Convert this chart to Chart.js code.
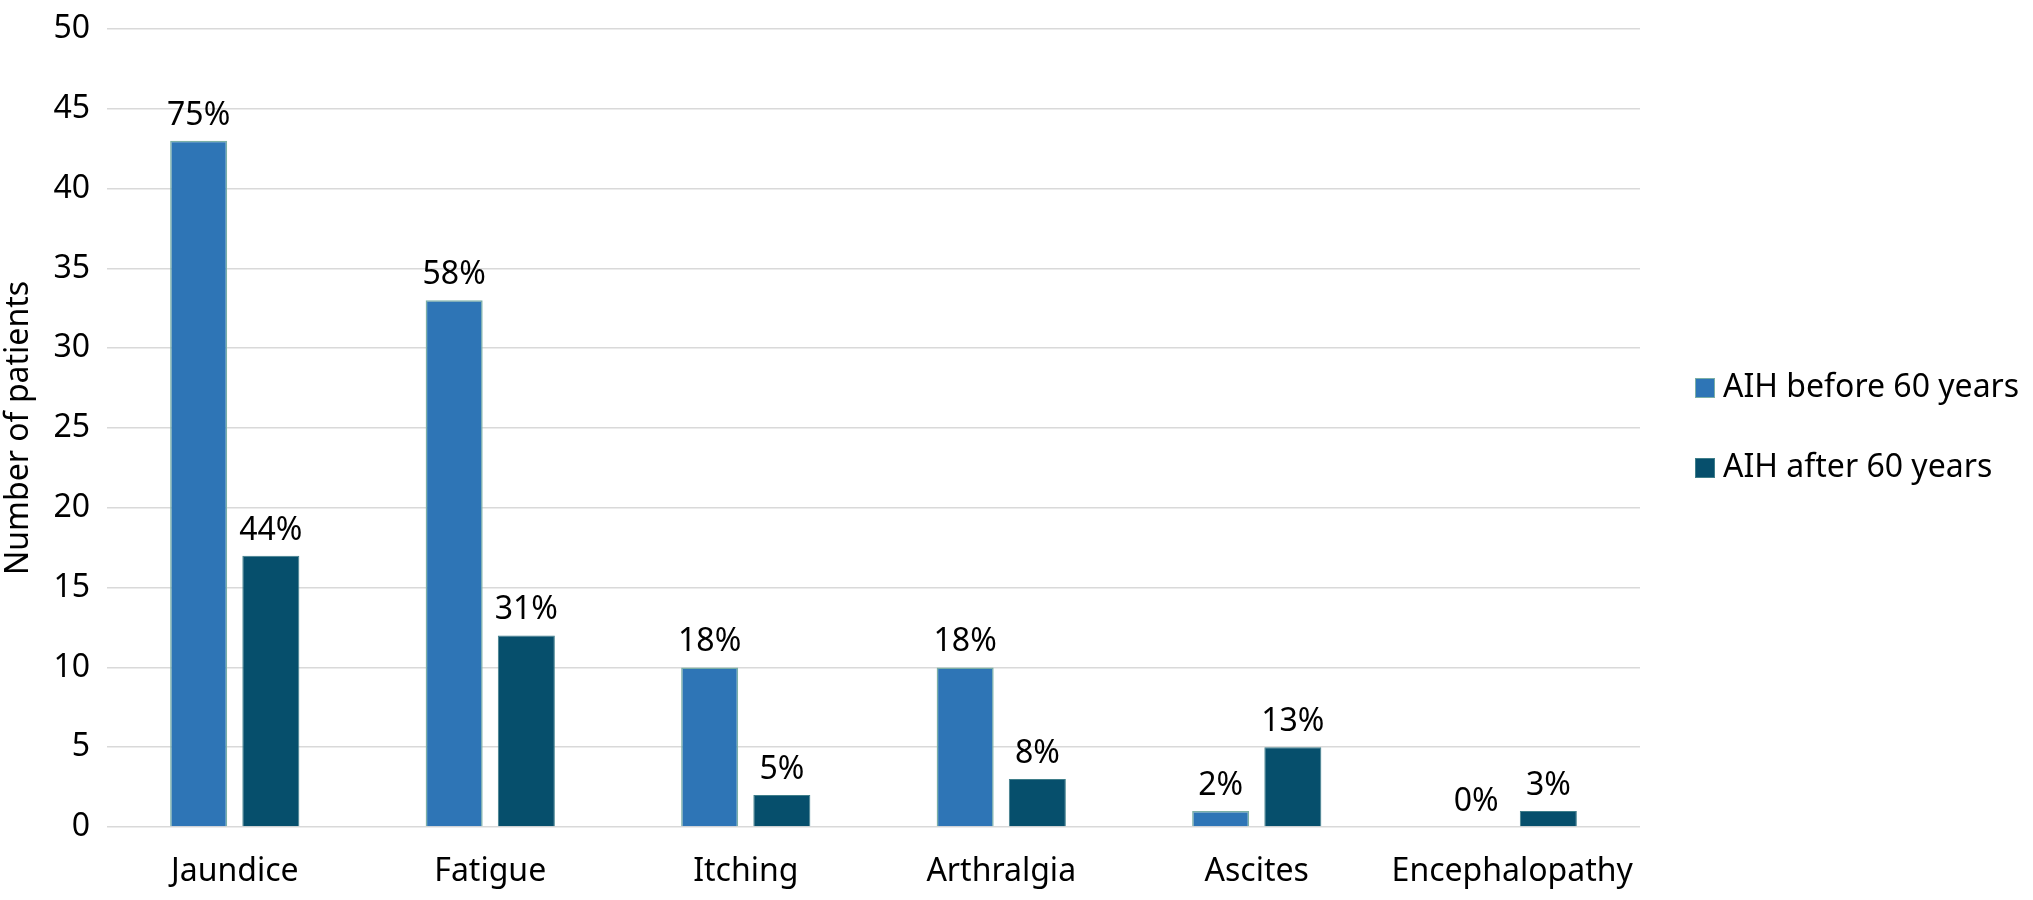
<!DOCTYPE html>
<html>
<head>
<meta charset="utf-8">
<script src="https://cdn.jsdelivr.net/npm/chart.js@4.4.1/dist/chart.umd.min.js"></script>
<style>
  html, body { margin: 0; padding: 0; background: #fff; }
  #wrap { width: 2033px; height: 900px; }
</style>
</head>
<body>
<div id="wrap"><canvas id="barChart" width="2033" height="900"></canvas></div>
<script>
// Chart data
const categories = ['Jaundice', 'Fatigue', 'Itching', 'Arthralgia', 'Ascites', 'Encephalopathy'];
const seriesNames = ['AIH before 60 years', 'AIH after 60 years'];
const beforeCounts = [43, 33, 10, 10, 1, 0];
const afterCounts = [17, 12, 2, 3, 5, 1];
const beforePercents = ['75%', '58%', '18%', '18%', '2%', '0%'];
const afterPercents = ['44%', '31%', '5%', '8%', '13%', '3%'];

const FONT = 'Noto Sans';
const SIZE = 32;

// Draws the percentage text above each bar
const barLabels = {
  id: 'barLabels',
  afterDatasetsDraw(chart) {
    const ctx = chart.ctx;
    ctx.save();
    ctx.font = SIZE + 'px "' + FONT + '"';
    ctx.fillStyle = '#000';
    ctx.textAlign = 'center';
    ctx.textBaseline = 'alphabetic';
    chart.data.datasets.forEach((ds, i) => {
      const meta = chart.getDatasetMeta(i);
      meta.data.forEach((bar, j) => {
        ctx.fillText(ds.percents[j], bar.x, bar.y - 16);
      });
    });
    ctx.restore();
  }
};

// Simple legend on the right side, vertically centered on the plot
const sideLegend = {
  id: 'sideLegend',
  afterDraw(chart) {
    const ctx = chart.ctx;
    const area = chart.chartArea;
    const x = area.right + 55;
    const midY = (area.top + area.bottom) / 2;
    ctx.save();
    ctx.font = SIZE + 'px "' + FONT + '"';
    ctx.textBaseline = 'middle';
    ctx.textAlign = 'left';
    chart.data.datasets.forEach((ds, i) => {
      const y = midY - 40 + i * 80;
      ctx.fillStyle = ds.backgroundColor;
      ctx.fillRect(x, y - 10, 20, 20);
      ctx.strokeStyle = ds.borderColor;
      ctx.lineWidth = 1;
      ctx.strokeRect(x + 0.5, y - 9.5, 19, 19);
      ctx.fillStyle = '#000';
      ctx.fillText(ds.label, x + 28, y);
    });
    ctx.restore();
  }
};

const ctx = document.getElementById('barChart').getContext('2d');
new Chart(ctx, {
  type: 'bar',
  data: {
    labels: categories,
    datasets: [
      {
        label: seriesNames[0],
        data: beforeCounts,
        percents: beforePercents,
        backgroundColor: '#2E75B6',
        borderColor: '#7BAFA6',
        borderWidth: 1.5,
        borderSkipped: 'bottom',
        categoryPercentage: 0.565,
        barPercentage: 0.79
      },
      {
        label: seriesNames[1],
        data: afterCounts,
        percents: afterPercents,
        backgroundColor: '#064F6C',
        borderColor: '#3F7E8A',
        borderWidth: 1,
        borderSkipped: 'bottom',
        categoryPercentage: 0.565,
        barPercentage: 0.79
      }
    ]
  },
  options: {
    responsive: false,
    animation: false,
    layout: { padding: { left: 0, right: 393, top: 29, bottom: 0 } },
    plugins: {
      legend: { display: false },
      tooltip: { enabled: false }
    },
    scales: {
      x: {
        grid: { display: false, drawTicks: false },
        border: { display: false },
        ticks: {
          color: '#000',
          font: { family: FONT, size: SIZE },
          padding: 26,
          maxRotation: 0
        },
        afterFit: (scale) => { scale.height = 73; }
      },
      y: {
        min: 0,
        max: 50,
        grid: { color: '#D9D9D9', lineWidth: 1.5, drawTicks: false },
        border: { display: false },
        ticks: {
          stepSize: 5,
          color: '#000',
          font: { family: FONT, size: SIZE },
          padding: 17
        },
        title: {
          display: true,
          text: 'Number of patients',
          color: '#000',
          font: { family: FONT, size: SIZE },
          padding: { top: 0, bottom: 0 }
        },
        afterFit: (scale) => {
          scale.width = 107;
          // the top tick label fits inside the layout padding already
          scale.paddingTop = 0;
          scale.paddingBottom = 0;
        }
      }
    }
  },
  plugins: [barLabels, sideLegend]
});
</script>
</body>
</html>
